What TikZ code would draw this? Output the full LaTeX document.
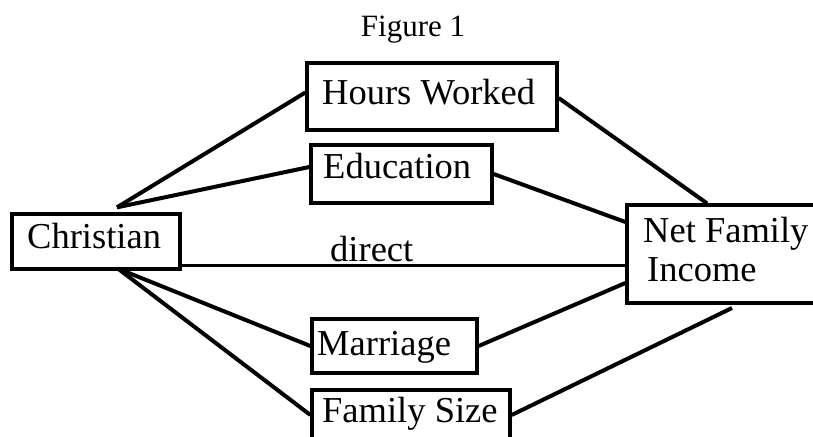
\documentclass[tikz,border=0pt]{standalone}
\usepackage{fontspec}
\setmainfont{Liberation Serif}
\usetikzlibrary{calc}
\begin{document}
\begin{tikzpicture}[x=1pt,y=-1pt,
  box/.style={draw,line width=3.3pt,rectangle,inner sep=0pt},
  lbl/.style={anchor=base west,inner sep=0pt,font=\fontsize{36.5}{40}\selectfont},
  link/.style={line width=4pt},
  thin/.style={line width=2.6pt}]
\useasboundingbox (0,0) rectangle (813,436);
\fill[white] (0,0) rectangle (813,436);
\begin{scope}
\clip (0,0) rectangle (813,436);
% boxes
\node[box,minimum width=168pt,minimum height=55pt] (chr) at (96,241.5) {};
\node[box,minimum width=250pt,minimum height=67pt] (hw) at (432,96.5) {};
\node[box,minimum width=181pt,minimum height=58pt] (ed) at (401.5,174) {};
\node[box,minimum width=165pt,minimum height=54pt] (mar) at (394.5,346) {};
\node[box,minimum width=198pt,minimum height=56pt] (fs) at (411,418) {};
\node[box,minimum width=193pt,minimum height=98pt] (nfi) at (723.5,254) {};
% texts
\node[anchor=base,inner sep=0pt,font=\fontsize{31}{34}\selectfont] (title) at (413,37) {Figure 1};
\node[lbl] (thw) at (322,104) {Hours Worked};
\node[lbl] (ted) at (323,178) {Education};
\node[lbl] (tchr) at (27,248) {Christian};
\node[lbl] (tdir) at (330,261) {direct};
\node[lbl] (tmar) at (317,355) {Marriage};
\node[lbl] (tfs) at (322,422) {Family Size};
\node[lbl] (tnfi1) at (643,242) {Net Family};
\node[lbl] (tnfi2) at (647,281) {Income};
% connectors
\coordinate (ctop) at ([xshift=21pt,yshift=5pt]chr.north);
\coordinate (cbot) at ([xshift=22pt,yshift=2pt]chr.south);
\coordinate (fsend) at (732,308);
\draw[link] (ctop) -- ([yshift=4pt]hw.west);
\draw[link] (ctop) -- ([yshift=7pt]ed.west);
\draw[thin] ([yshift=5pt]chr.south east) -- ([yshift=5pt]chr.south east -| nfi.west);
\draw[link] (cbot) -- (mar.west);
\draw[link] (cbot) -- ([yshift=3pt]fs.west);
\draw[link] ([yshift=-1.5pt]hw.east) -- ([xshift=-16.5pt]nfi.north);
\draw[link] (ed.east) -- ([yshift=32pt]nfi.west);
\draw[link] (mar.east) -- ([yshift=-29pt]nfi.west);
\draw[link] ([yshift=3pt]fs.east) -- (fsend);
\end{scope}
\end{tikzpicture}
\end{document}
